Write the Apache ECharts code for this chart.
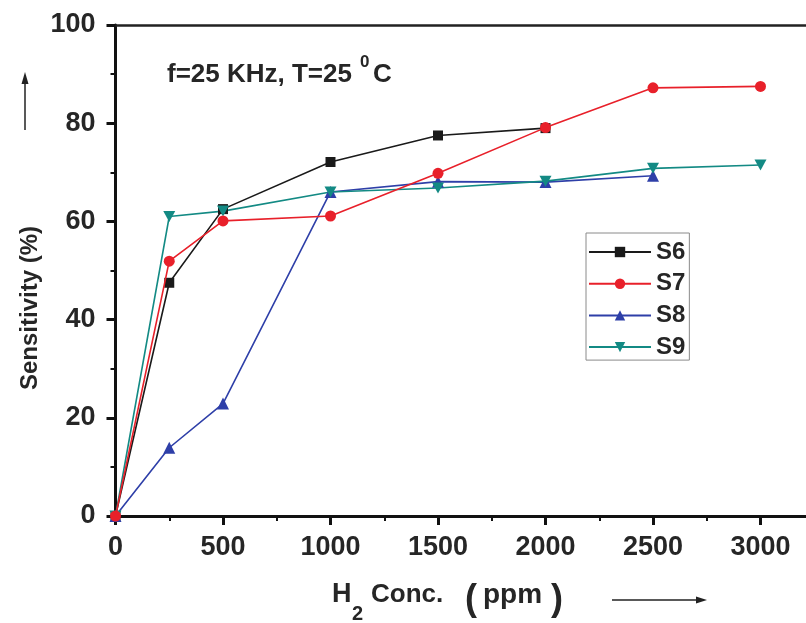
<!DOCTYPE html>
<html>
<head>
<meta charset="utf-8">
<script src="https://cdn.jsdelivr.net/npm/echarts@6/dist/echarts.min.js"></script>
<style>
  html, body { margin: 0; padding: 0; background: #fff; overflow: hidden; width: 806px; height: 623px; }
  #chart { width: 830px; height: 623px; }
</style>
</head>
<body>
<div id="chart"></div>
<script>
// H2 concentration (ppm) and sensitivity (%) for samples S6–S9
const concS6 = [0, 250, 500, 1000, 1500, 2000];
const sensS6 = [0, 47.5, 62.5, 72.1, 77.5, 79.0];

const concS7 = [0, 250, 500, 1000, 1500, 2000, 2500, 3000];
const sensS7 = [0, 51.9, 60.1, 61.1, 69.8, 79.1, 87.2, 87.5];

const concS8 = [0, 250, 500, 1000, 1500, 2000, 2500];
const sensS8 = [0, 13.9, 22.9, 66.0, 68.1, 68.0, 69.3];

const concS9 = [0, 250, 500, 1000, 1500, 2000, 2500, 3000];
const sensS9 = [0, 61.0, 62.1, 66.0, 66.8, 68.2, 70.8, 71.5];

const seriesNames = ['S6', 'S7', 'S8', 'S9'];
const seriesColors = ['#1a1a1a', '#e8202a', '#2e3fa8', '#138a84'];
const seriesSymbols = ['rect', 'circle', 'triangle', 'path://M0,0 L10,0 L5,9 Z'];
const seriesSymbolSizes = [10, 11, 12, [12, 11]];

const pairs = (xs, ys) => xs.map((x, i) => [x, ys[i]]);
const seriesData = [
  pairs(concS6, sensS6),
  pairs(concS7, sensS7),
  pairs(concS8, sensS8),
  pairs(concS9, sensS9)
];

const FONT = '"Liberation Sans", Arial, sans-serif';
const INK = '#262626';
const chart = echarts.init(document.getElementById('chart'));

const axisLineStyle = { color: '#111', width: 3 };
const boldText = (size, extra) => Object.assign({
  fontFamily: FONT, fontWeight: 'bold', fontSize: size, fill: INK
}, extra || {});

chart.setOption({
  animation: false,
  backgroundColor: '#fff',
  grid: { left: 115.5, top: 25, right: 5, bottom: 107, containLabel: false },
  xAxis: [{
    type: 'value',
    min: 0, max: 3300, interval: 500,
    position: 'bottom',
    axisLine: { show: true, onZero: false, lineStyle: axisLineStyle },
    axisTick: { show: true, inside: false, length: 9, lineStyle: { color: '#111', width: 3 } },
    minorTick: { show: true, splitNumber: 2, length: 5, lineStyle: { color: '#111', width: 2 } },
    splitLine: { show: false },
    axisLabel: {
      margin: 18, color: INK, fontFamily: FONT, fontWeight: 'bold', fontSize: 27,
      formatter: v => (v <= 3000 ? String(v) : '')
    }
  }, {
    type: 'value',
    min: 0, max: 3300,
    position: 'top',
    axisLine: { show: true, onZero: false, lineStyle: { color: '#222', width: 2.5 } },
    axisTick: { show: false },
    axisLabel: { show: false },
    splitLine: { show: false }
  }],
  yAxis: {
    type: 'value',
    min: 0, max: 100, interval: 20,
    axisLine: { show: true, onZero: false, lineStyle: axisLineStyle },
    axisTick: { show: true, inside: false, length: 9, lineStyle: { color: '#111', width: 3 } },
    minorTick: { show: true, splitNumber: 2, length: 5, lineStyle: { color: '#111', width: 2 } },
    splitLine: { show: false },
    axisLabel: {
      margin: 20, color: INK, fontFamily: FONT, fontWeight: 'bold', fontSize: 27
    }
  },
  legend: {
    data: seriesNames,
    orient: 'vertical',
    left: 586, top: 233,
    padding: [7, 4, 1, 2],
    itemGap: 7.7,
    itemWidth: 62,
    itemHeight: 13,
    borderColor: '#8a8a8a',
    borderWidth: 1,
    textStyle: { fontFamily: FONT, fontWeight: 'bold', fontSize: 24, color: INK, lineHeight: 24 }
  },
  series: seriesNames.map((name, i) => ({
    name,
    type: 'line',
    data: seriesData[i],
    symbol: seriesSymbols[i],
    symbolSize: seriesSymbolSizes[i],
    lineStyle: { color: seriesColors[i], width: 1.6 },
    itemStyle: { color: seriesColors[i] },
    z: 2 + (i === 1 ? 1 : 0)
  })),
  graphic: [
    // measurement conditions
    { type: 'text', x: 167, y: 75, style: boldText(26, { text: 'f=25 KHz, T=25', verticalAlign: 'middle' }) },
    { type: 'text', x: 360, y: 62, style: boldText(17, { text: '0', verticalAlign: 'middle' }) },
    { type: 'text', x: 373, y: 75, style: boldText(26, { text: 'C', verticalAlign: 'middle' }) },

    // y-axis title with arrow
    {
      type: 'text', x: 30, y: 308, rotation: Math.PI / 2,
      style: boldText(24, { text: 'Sensitivity (%)', align: 'center', verticalAlign: 'middle' })
    },
    { type: 'line', shape: { x1: 25, y1: 130, x2: 25, y2: 82 }, style: { stroke: '#222', lineWidth: 1.5 } },
    { type: 'polygon', shape: { points: [[25, 72], [21.5, 84], [28.5, 84]] }, style: { fill: '#222' } },

    // x-axis title with arrow
    { type: 'text', x: 332, y: 595, style: boldText(27, { text: 'H', verticalAlign: 'middle' }) },
    { type: 'text', x: 352, y: 614, style: boldText(20, { text: '2', verticalAlign: 'middle' }) },
    { type: 'text', x: 371, y: 595, style: boldText(26, { text: 'Conc.', verticalAlign: 'middle' }) },
    { type: 'text', x: 465, y: 600, style: boldText(36, { text: '(', verticalAlign: 'middle' }) },
    { type: 'text', x: 483, y: 595, style: boldText(28, { text: 'ppm', verticalAlign: 'middle' }) },
    { type: 'text', x: 551, y: 600, style: boldText(36, { text: ')', verticalAlign: 'middle' }) },
    { type: 'line', shape: { x1: 612, y1: 600, x2: 697, y2: 600 }, style: { stroke: '#222', lineWidth: 1.5 } },
    { type: 'polygon', shape: { points: [[707, 600], [696, 596.5], [696, 603.5]] }, style: { fill: '#222' } }
  ]
});
</script>
</body>
</html>
